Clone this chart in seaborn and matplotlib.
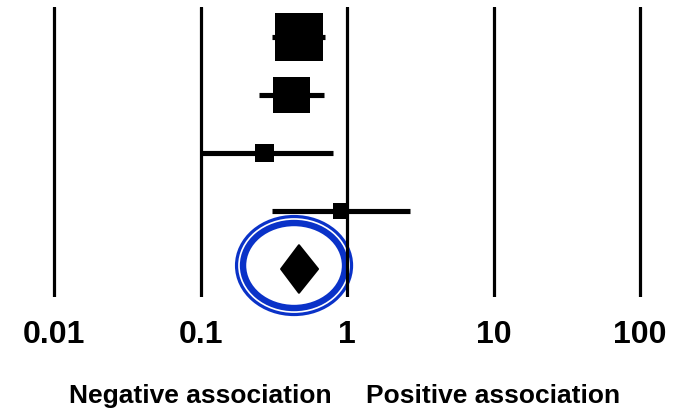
import numpy as np
import pandas as pd
import matplotlib
matplotlib.use("Agg")
import matplotlib.pyplot as plt
import matplotlib.transforms as mtransforms
from matplotlib.patches import Ellipse
import seaborn as sns

# Study-level odds ratios with 95% confidence intervals
studies = ["Study 1", "Study 2", "Study 3", "Study 4"]
odds_ratio = [0.47, 0.42, 0.275, 0.91]
ci_low = [0.31, 0.25, 0.10, 0.31]
ci_high = [0.71, 0.70, 0.80, 2.69]
weights = [53.7, 31.9, 8.4, 6.0]  # percent weight, drives box area

# Pooled estimate
pooled_or = 0.47
pooled_low = 0.355
pooled_high = 0.634

tick_values = [0.01, 0.1, 1, 10, 100]
tick_labels = ["0.01", "0.1", "1", "10", "100"]
side_labels = ["Negative association", "Positive association"]
side_label_x = [0.1, 10]

sns.set_theme(style="white")
plt.rcParams["font.family"] = ["Liberation Sans", "DejaVu Sans"]

W, H, DPI = 681, 410, 100
fig = plt.figure(figsize=(W / DPI, H / DPI), dpi=DPI)
ax_top, ax_bot = 8, 298
ax = fig.add_axes([0, (H - ax_bot) / H, 1, (ax_bot - ax_top) / H])

ax.set_xscale("log")
px_per_dec = 146.5
left_dec = -2 - 54 / px_per_dec
right_dec = 2 + (W - 640) / px_per_dec
ax.set_xlim(10 ** left_dec, 10 ** right_dec)
row_px = 58.0
ax.set_ylim(4 + (ax_bot - 270) / row_px, -(38 - ax_top) / row_px)

df = pd.DataFrame({
    "study": studies,
    "or": odds_ratio,
    "lo": ci_low,
    "hi": ci_high,
    "weight": weights,
    "row": np.arange(len(studies)),
})

# Confidence interval whiskers
ax.hlines(df["row"], df["lo"], df["hi"], color="black", linewidth=3.7,
          zorder=3, capstyle="butt")

# Weighted point estimates (box area proportional to weight)
max_area = (48 * 72 / DPI) ** 2
sns.scatterplot(data=df, x="or", y="row", size="weight",
                sizes=(0, max_area), size_norm=(0, max(weights)),
                marker="s", color="black", linewidth=0, legend=False,
                ax=ax, zorder=4)

# Pooled diamond
pooled_row = 4
half_h = 0.41
dx = [pooled_low, pooled_or, pooled_high, pooled_or]
dy = [pooled_row, pooled_row - half_h, pooled_row, pooled_row + half_h]
ax.fill(dx, dy, color="black", zorder=4, joinstyle="round",
        linewidth=1.5, edgecolor="black")

# Highlight ring around the pooled estimate
ring_center = (0.435, 3.94)
ring_trans = fig.dpi_scale_trans + mtransforms.ScaledTranslation(
    ring_center[0], ring_center[1], ax.transData)
blue = "#0a32c8"
ax.add_patch(Ellipse((0, 0), 1.15, 0.98, transform=ring_trans, fill=False,
                     edgecolor=blue, linewidth=2.3, zorder=0.2, clip_on=False))
ax.add_patch(Ellipse((0, 0), 1.02, 0.85, transform=ring_trans, fill=False,
                     edgecolor=blue, linewidth=4.6, zorder=0.2, clip_on=False))

# Reference lines at each decade
ax.set_axisbelow(True)
ax.grid(axis="x", which="major", color="black", linewidth=2.3)
ax.grid(axis="y", visible=False)
ax.grid(axis="x", which="minor", visible=False)
ax.set_xticks(tick_values)
ax.set_xticklabels(tick_labels, fontsize=23, fontweight="bold", color="black")
ax.xaxis.set_minor_locator(matplotlib.ticker.NullLocator())
ax.tick_params(axis="x", length=0, pad=16, labelcolor="black")
ax.set_yticks([])
ax.set_xlabel("")
ax.set_ylabel("")
for s in ax.spines.values():
    s.set_visible(False)

label_trans = mtransforms.blended_transform_factory(ax.transData, fig.transFigure)
for xv, txt in zip(side_label_x, side_labels):
    ax.text(xv, (H - 403) / H, txt, transform=label_trans, ha="center",
            va="baseline", fontsize=19, fontweight="bold", color="black")

fig.savefig("out.png", dpi=DPI)
